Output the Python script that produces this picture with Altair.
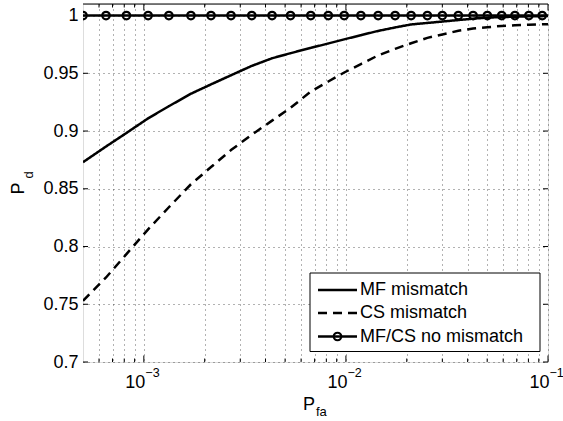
import altair as alt
import pandas as pd

# ---------------- data ----------------
series_names = ["MF mismatch", "CS mismatch", "MF/CS no mismatch"]

pfa = [5.0e-4, 6.5e-4, 8.2e-4, 1.05e-3, 1.33e-3, 1.71e-3, 2.15e-3, 2.70e-3,
       3.42e-3, 4.31e-3, 5.32e-3, 6.70e-3, 8.18e-3, 9.81e-3, 1.186e-2,
       1.444e-2, 1.752e-2, 2.102e-2, 2.530e-2, 3.00e-2, 3.60e-2, 4.26e-2,
       5.01e-2, 5.90e-2, 6.86e-2, 8.04e-2, 9.36e-2, 1.0e-1]

mf_mismatch = [0.873, 0.8866, 0.8983, 0.911, 0.9215, 0.9323, 0.9404, 0.9483,
               0.9564, 0.963, 0.9674, 0.972, 0.9758, 0.9794, 0.983, 0.9867,
               0.9897, 0.9923, 0.9936, 0.9948, 0.9961, 0.9973, 0.9982, 0.9987,
               0.999, 0.9993, 0.9995, 0.9996]

cs_mismatch = [0.753, 0.7732, 0.7934, 0.8149, 0.834, 0.8539, 0.8688, 0.8835,
               0.8968, 0.909, 0.9201, 0.9342, 0.9429, 0.9507, 0.958, 0.9655,
               0.9712, 0.976, 0.9807, 0.9836, 0.9868, 0.9888, 0.9899, 0.991,
               0.9916, 0.992, 0.9924, 0.9925]

no_mismatch = [1.0, 1.0, 1.0, 1.0, 1.0, 1.0, 1.0, 1.0, 1.0, 1.0, 1.0, 1.0,
               1.0, 1.0, 1.0, 1.0, 1.0, 1.0, 1.0, 1.0, 1.0, 1.0, 1.0, 1.0,
               1.0, 1.0, 1.0, 1.0]

pfa_markers = [5.0e-4, 6.5e-4, 8.2e-4, 1.05e-3, 1.33e-3, 1.71e-3, 2.15e-3,
               2.70e-3, 3.42e-3, 4.31e-3, 5.32e-3, 6.70e-3, 8.18e-3, 9.81e-3,
               1.186e-2, 1.444e-2, 1.752e-2, 2.102e-2, 2.530e-2, 3.00e-2,
               3.60e-2, 4.26e-2, 5.01e-2, 5.90e-2, 6.86e-2, 8.04e-2, 9.36e-2]
pd_markers = [1.0, 1.0, 1.0, 1.0, 1.0, 1.0, 1.0, 1.0, 1.0, 1.0, 1.0, 1.0,
              1.0, 1.0, 1.0, 1.0, 1.0, 1.0, 1.0, 1.0, 1.0, 1.0, 1.0, 1.0,
              1.0, 1.0, 1.0]

x_minor_ticks = [6e-4, 7e-4, 8e-4, 9e-4,
                 2e-3, 3e-3, 4e-3, 5e-3, 6e-3, 7e-3, 8e-3, 9e-3,
                 2e-2, 3e-2, 4e-2, 5e-2, 6e-2, 7e-2, 8e-2, 9e-2]
x_major_ticks = [1e-3, 1e-2, 1e-1]
x_tick_base = ["10", "10", "10"]
x_tick_exponents = ["\u22123", "\u22122", "\u22121"]
y_ticks = [0.7, 0.75, 0.8, 0.85, 0.9, 0.95, 1.0]

# ---------------- layout constants ----------------
W, H = 465, 358
FONT = "Liberation Sans"
FS = 18
LW = 2.5
DASH = [9, 6]
MSIZE = 56
MSW = 2.2

xscale = alt.Scale(type="log", domain=[5e-4, 0.1], nice=False)
yscale = alt.Scale(domain=[0.7, 1.01], nice=False, zero=False)

GRID = dict(grid=True, gridDash=[1, 4], gridColor="#222", gridOpacity=0.7,
            gridWidth=1)
xaxis = alt.Axis(values=x_minor_ticks + x_major_ticks, labels=False,
                 ticks=False, domain=False, title=None, **GRID)
yaxis = alt.Axis(values=y_ticks, format=".2~f", ticks=False, domain=False,
                 labelPadding=5, labelFontSize=FS, labelFont=FONT,
                 labelColor="black", title=None, **GRID)

# ---------------- tables ----------------
rows = []
for name, vals in zip(series_names, [mf_mismatch, cs_mismatch, no_mismatch]):
    for x, y in zip(pfa, vals):
        rows.append({"pfa": x, "pd": y, "series": name})
df_lines = pd.DataFrame(rows)
df_markers = pd.DataFrame({"pfa": pfa_markers, "pd": pd_markers})
df_minor = pd.DataFrame({"pfa": x_minor_ticks})
df_major = pd.DataFrame({"pfa": x_major_ticks, "base": x_tick_base,
                         "exp": x_tick_exponents})
df_y = pd.DataFrame({"pd": y_ticks})
df_one = pd.DataFrame({"t": ["P"]})

X = alt.X("pfa:Q", scale=xscale, axis=xaxis)
Y = alt.Y("pd:Q", scale=yscale, axis=yaxis)

# ---------------- data layers ----------------
lines = alt.Chart(df_lines).mark_line(clip=True, strokeWidth=LW, color="black").encode(
    x=X, y=Y,
    strokeDash=alt.StrokeDash("series:N",
                              scale=alt.Scale(domain=series_names,
                                              range=[[1, 0], DASH, [1, 0]]),
                              legend=None),
    detail="series:N",
)

markers = alt.Chart(df_markers).mark_point(
    clip=True, filled=False, shape="circle", size=MSIZE, strokeWidth=MSW,
    color="black", opacity=1
).encode(x=X, y=Y)

# ---------------- inward ticks and frame ----------------
def xrule(df, y1, y2):
    return alt.Chart(df).mark_rule(color="black", strokeWidth=1).encode(
        x=X, y=alt.value(y1), y2=alt.value(y2))

def yrule(x1, x2):
    return alt.Chart(df_y).mark_rule(color="black", strokeWidth=1).encode(
        y=Y, x=alt.value(x1), x2=alt.value(x2))

ticks = [
    xrule(df_minor, H, H - 3.5), xrule(df_minor, 0, 3.5),
    xrule(df_major, H, H - 6.5), xrule(df_major, 0, 6.5),
    yrule(0, 5), yrule(W - 5, W),
]

frame_top = alt.Chart(df_one).mark_rule(color="black", strokeWidth=1).encode(
    x=alt.value(0), x2=alt.value(W), y=alt.value(0))

# ---------------- tick labels 10^k ----------------
tick_base = alt.Chart(df_major).mark_text(
    align="right", baseline="alphabetic", dx=1.5, fontSize=FS, font=FONT,
    color="black").encode(x=X, y=alt.value(H + 26), text="base:N")
tick_exp = alt.Chart(df_major).mark_text(
    align="left", baseline="alphabetic", dx=1.5, fontSize=12.5, font=FONT,
    color="black").encode(x=X, y=alt.value(H + 15), text="exp:N")

def label(txt, x, y, size, align, angle=0):
    return alt.Chart(df_one).mark_text(
        text=txt, align=align, baseline="middle" if angle else "alphabetic",
        fontSize=size, font=FONT, color="black", angle=angle).encode(
        x=alt.value(x), y=alt.value(y))

titles = [
    label("P", 232, H + 48, FS, "right"),
    label("fa", 233, H + 54, 13, "left"),
    label("P", -64, 184.5, FS, "center", 270),
    label("d", -54, 171, 13, "center", 270),
]

# ---------------- legend box (MATLAB style, inside the axes) ----------------
LX0, LX1, LY0, LY1 = 227, 457, 269, 347.5
row_y = [286, 309, 332.5]
SX0, SX1, TX = 235, 274, 277

legend_layers = [
    alt.Chart(df_one).mark_rect(fill="white", stroke="black", strokeWidth=1).encode(
        x=alt.value(LX0), x2=alt.value(LX1), y=alt.value(LY0), y2=alt.value(LY1)),
    alt.Chart(df_one).mark_rule(color="black", strokeWidth=LW).encode(
        x=alt.value(SX0), x2=alt.value(SX1), y=alt.value(row_y[0])),
    alt.Chart(df_one).mark_rule(color="black", strokeWidth=LW,
                                strokeDash=DASH).encode(
        x=alt.value(SX0), x2=alt.value(SX1), y=alt.value(row_y[1])),
    alt.Chart(df_one).mark_rule(color="black", strokeWidth=LW).encode(
        x=alt.value(SX0), x2=alt.value(SX1), y=alt.value(row_y[2])),
    alt.Chart(df_one).mark_point(filled=False, shape="circle", size=MSIZE,
                                 strokeWidth=MSW, color="black",
                                 opacity=1).encode(
        x=alt.value((SX0 + SX1) / 2), y=alt.value(row_y[2])),
]
for name, yy in zip(series_names, row_y):
    legend_layers.append(
        alt.Chart(df_one).mark_text(text=name, align="left", baseline="middle",
                                    fontSize=FS, font=FONT, color="black").encode(
            x=alt.value(TX), y=alt.value(yy)))

chart = alt.layer(lines, markers, *ticks, frame_top, tick_base, tick_exp,
                  *titles, *legend_layers).properties(
    width=W, height=H,
    padding={"left": 83, "top": 4, "right": 15, "bottom": 59},
    autosize=alt.AutoSizeParams(type="none"),
    background="white",
).configure_view(stroke="black", strokeWidth=1).configure(font=FONT)

chart.save("out.html", embed_options={"renderer": "svg", "actions": False})
